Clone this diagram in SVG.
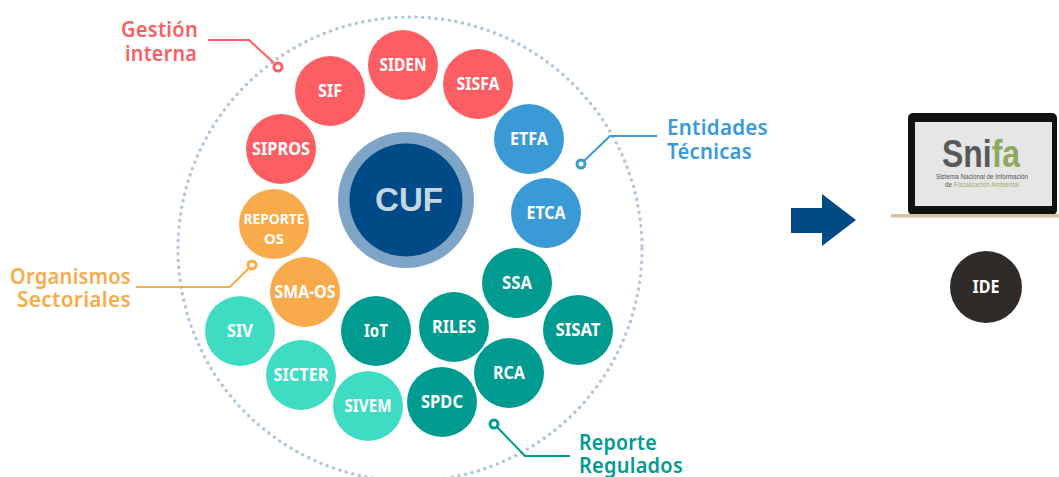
<svg xmlns="http://www.w3.org/2000/svg" width="1059" height="477" viewBox="0 0 1059 477">
<style>
.n{font:700 18px "Noto Sans","Liberation Sans",sans-serif;fill:#fff;text-anchor:middle}
.l{font:600 22px "Noto Sans","Liberation Sans",sans-serif;letter-spacing:.3px}
.red{fill:#fd5e63}.blue{fill:#3a9ad6}.org{fill:#f8ab4b}.tq{fill:#3fdcc4}.tl{fill:#009b90}
.c{fill:none;stroke-width:2}.d{fill:#fff;stroke-width:3}
</style>
<rect width="1059" height="477" fill="#fff"/>
<circle id="ring" cx="410" cy="249" r="232" fill="none" stroke="#b3c7da" stroke-width="3.4" stroke-linecap="round" stroke-dasharray="0.1 6.6"/>
<g id="connectors">
<path class="c" stroke="#fd5e63" d="M208 40H249L274 63"/><circle class="d" stroke="#fd5e63" cx="278" cy="67" r="4"/>
<path class="c" stroke="#f8ab4b" d="M136 287H230L249 268"/><circle class="d" stroke="#f8ab4b" cx="252" cy="265" r="4"/>
<path class="c" stroke="#3a9ad6" d="M657 136H610L584 161"/><circle class="d" stroke="#3a9ad6" cx="581" cy="164" r="4"/>
<path class="c" stroke="#009b90" d="M497 427L525 456H570"/><circle class="d" stroke="#009b90" cx="494" cy="424" r="4"/>
</g>
<g id="cuf"><circle cx="406" cy="200" r="68" fill="#7ea4c6"/><circle cx="406" cy="200" r="56.500" fill="#004b87"/><text x="409" y="211" text-anchor="middle" font-family="Liberation Sans,sans-serif" font-weight="700" font-size="33" fill="#c3d7e3">CUF</text></g>
<g id="siden"><circle class="red" cx="403" cy="65" r="35"/><text class="n" x="403" y="71" textLength="47" lengthAdjust="spacingAndGlyphs">SIDEN</text></g>
<g id="sisfa"><circle class="red" cx="478" cy="84" r="35"/><text class="n" x="478" y="90" textLength="43" lengthAdjust="spacingAndGlyphs">SISFA</text></g>
<g id="sif"><circle class="red" cx="330" cy="91" r="35"/><text class="n" x="330" y="97" textLength="24" lengthAdjust="spacingAndGlyphs">SIF</text></g>
<g id="sipros"><circle class="red" cx="281" cy="149" r="35"/><text class="n" x="281" y="155" textLength="58" lengthAdjust="spacingAndGlyphs">SIPROS</text></g>
<g id="etfa"><circle class="blue" cx="529" cy="139" r="35"/><text class="n" x="529" y="145" textLength="38" lengthAdjust="spacingAndGlyphs">ETFA</text></g>
<g id="etca"><circle class="blue" cx="546" cy="213" r="35"/><text class="n" x="546" y="219" textLength="39" lengthAdjust="spacingAndGlyphs">ETCA</text></g>
<g id="reporte-os"><circle class="org" cx="274" cy="224" r="35"/><text class="n" x="274" y="224" style="font-size:15px" textLength="61" lengthAdjust="spacingAndGlyphs">REPORTE</text><text class="n" x="274" y="244" style="font-size:15px" textLength="20" lengthAdjust="spacingAndGlyphs">OS</text></g>
<g id="sma-os"><circle class="org" cx="305" cy="292" r="35"/><text class="n" x="305" y="298" textLength="61" lengthAdjust="spacingAndGlyphs">SMA-OS</text></g>
<g id="siv"><circle class="tq" cx="240" cy="331" r="35"/><text class="n" x="240" y="337" textLength="26" lengthAdjust="spacingAndGlyphs">SIV</text></g>
<g id="sicter"><circle class="tq" cx="301" cy="375" r="35"/><text class="n" x="301" y="381" textLength="55" lengthAdjust="spacingAndGlyphs">SICTER</text></g>
<g id="sivem"><circle class="tq" cx="368" cy="406" r="35"/><text class="n" x="368" y="412" textLength="47" lengthAdjust="spacingAndGlyphs">SIVEM</text></g>
<g id="spdc"><circle class="tl" cx="442" cy="402" r="35"/><text class="n" x="442" y="408" textLength="42" lengthAdjust="spacingAndGlyphs">SPDC</text></g>
<g id="rca"><circle class="tl" cx="509" cy="373" r="35"/><text class="n" x="509" y="379" textLength="32" lengthAdjust="spacingAndGlyphs">RCA</text></g>
<g id="sisat"><circle class="tl" cx="578" cy="330" r="35"/><text class="n" x="578" y="336" textLength="45" lengthAdjust="spacingAndGlyphs">SISAT</text></g>
<g id="ssa"><circle class="tl" cx="517" cy="283" r="35"/><text class="n" x="517" y="289" textLength="30" lengthAdjust="spacingAndGlyphs">SSA</text></g>
<g id="riles"><circle class="tl" cx="454" cy="327" r="35"/><text class="n" x="454" y="333" textLength="44" lengthAdjust="spacingAndGlyphs">RILES</text></g>
<g id="iot"><circle class="tl" cx="376" cy="331" r="35"/><text class="n" x="376" y="337" textLength="24" lengthAdjust="spacingAndGlyphs">IoT</text></g>
<g id="labels">
<text class="l red" x="121" y="37" textLength="77" lengthAdjust="spacingAndGlyphs">Gestión</text>
<text class="l red" x="125" y="61" textLength="72" lengthAdjust="spacingAndGlyphs">interna</text>
<text class="l org" x="10" y="284" textLength="121" lengthAdjust="spacingAndGlyphs">Organismos</text>
<text class="l org" x="17" y="307" textLength="114" lengthAdjust="spacingAndGlyphs">Sectoriales</text>
<text class="l blue" x="667" y="135" textLength="101" lengthAdjust="spacingAndGlyphs">Entidades</text>
<text class="l blue" x="667" y="159" textLength="85" lengthAdjust="spacingAndGlyphs">Técnicas</text>
<text class="l tl" x="579" y="450" textLength="78" lengthAdjust="spacingAndGlyphs">Reporte</text>
<text class="l tl" x="579" y="473" textLength="104" lengthAdjust="spacingAndGlyphs">Regulados</text>
</g>
<path id="arrow" fill="#004b87" d="M791 208H822V194L856 220L822 246V233H791Z"/>
<g id="laptop">
<rect x="908" y="113" width="149" height="102" rx="5" fill="#111"/>
<rect x="915" y="122" width="137" height="84" fill="#e6e6e6"/>
<rect x="891" y="214" width="168" height="3.500" fill="#d9bfa3"/>
<text x="942" y="167" font-family="Liberation Sans,sans-serif" font-weight="700" font-size="38" fill="#58595b" textLength="78" lengthAdjust="spacingAndGlyphs">Sni<tspan fill="#8fa860">fa</tspan></text>
<text x="982" y="179" text-anchor="middle" font-family="Liberation Sans,sans-serif" font-size="8" fill="#555" textLength="92" lengthAdjust="spacingAndGlyphs">Sistema Nacional de Información</text>
<text x="982" y="187" text-anchor="middle" font-family="Liberation Sans,sans-serif" font-size="8" fill="#555" textLength="74" lengthAdjust="spacingAndGlyphs">de <tspan fill="#a0b070">Fiscalización Ambiental</tspan></text>
</g>
<g id="ide"><circle cx="986" cy="287" r="36" fill="#2f2b28"/><text class="n" x="986" y="293" textLength="27" lengthAdjust="spacingAndGlyphs">IDE</text></g>
</svg>
